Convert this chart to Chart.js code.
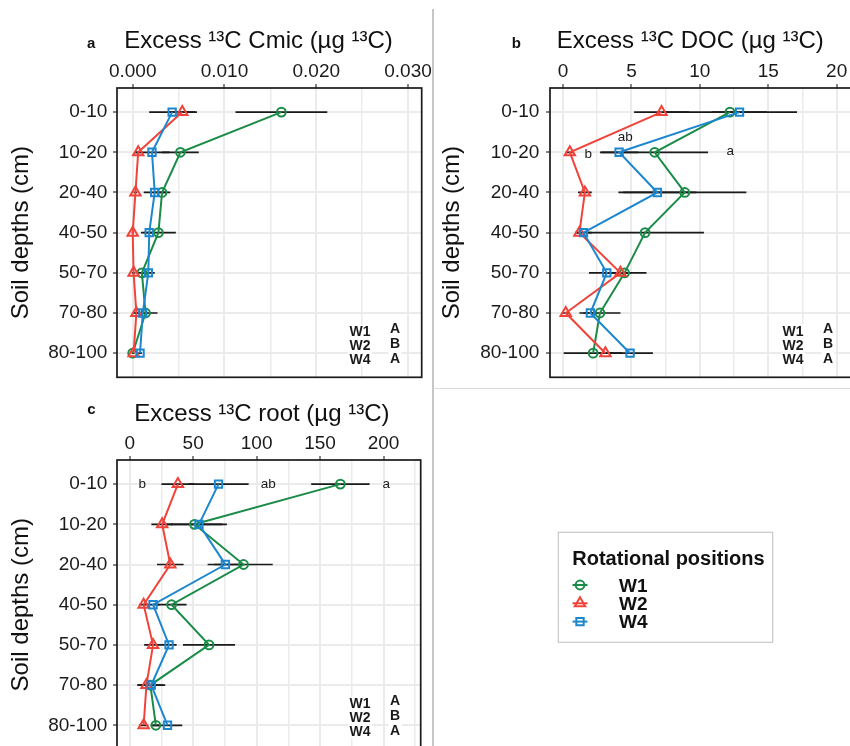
<!DOCTYPE html>
<html><head><meta charset="utf-8">
<script src="https://cdn.jsdelivr.net/npm/chart.js@4.4.1/dist/chart.umd.min.js"></script>
<style>
html,body{margin:0;padding:0;background:#fff;}
body{width:850px;height:746px;position:relative;overflow:hidden;}
canvas{position:absolute;display:block;}
#ca{left:0;top:0;} #cb{left:433px;top:0;} #cc{left:0;top:388px;} #cl{left:557px;top:531px;}
.vline{position:absolute;left:432px;top:9px;width:1.5px;height:737px;background:#c6c6c6;}
.hline{position:absolute;left:433px;top:388px;width:417px;height:1px;background:#dcdcdc;}
</style></head>
<body>
<div class="vline"></div><div class="hline"></div>
<canvas id="ca" width="432" height="388"></canvas>
<canvas id="cb" width="430" height="388"></canvas>
<canvas id="cc" width="432" height="370"></canvas>
<canvas id="cl" width="218" height="114"></canvas>
<script>
// ---------- data ----------
const depths = ['0-10','10-20','20-40','40-50','50-70','70-80','80-100'];
const seriesNames = ['W1','W2','W4'];
const groupLetters = ['A','B','A'];
const legendTitle = 'Rotational positions';

// Excess 13C Cmic
const cmicW1 = [0.0162, 0.0052, 0.0032, 0.0028, 0.0010, 0.0014, 0.0000];
const cmicW2 = [0.0054, 0.0006, 0.0003, 0.0000, 0.0001, 0.0004, 0.0001];
const cmicW4 = [0.0043, 0.0021, 0.0024, 0.0018, 0.0017, 0.0011, 0.0008];
const cmicW1Err = [0.0050, 0.0020, 0.0009, 0.0019, 0.0005, 0.0013, 0.0001];
const cmicW2Err = [0.0016, 0.0003, 0.0002, 0.0001, 0.0002, 0.0003, 0.0001];
const cmicW4Err = [0.0025, 0.0019, 0.0012, 0.0006, 0.0007, 0.0006, 0.0002];
const cmicTicks = [0, 0.01, 0.02, 0.03];
const cmicGrid = [0, 0.005, 0.01, 0.015, 0.02, 0.025, 0.03];

// Excess 13C DOC
const docW1 = [12.2, 6.7, 8.9, 6.0, 4.5, 2.7, 2.2];
const docW2 = [7.2, 0.5, 1.6, 1.2, 4.2, 0.2, 3.1];
const docW4 = [12.9, 4.1, 6.9, 1.5, 3.2, 2.0, 4.9];
const docW1Err = [4.9, 3.9, 4.5, 4.3, 1.6, 1.5, 2.15];
const docW2Err = [2.0, 0.3, 0.5, 0.3, 0.8, 0.3, 0.6];
const docW4Err = [2.0, 1.4, 2.85, 0.6, 1.3, 0.5, 1.67];
const docTicks = [0, 5, 10, 15, 20];
const docGrid = [0, 2.5, 5, 7.5, 10, 12.5, 15, 17.5, 20];
const docSig = ['ab', 'b', 'a'];
const docSigX = [4.55, 1.84, 12.23];
const docSigY = [0.62, 1.04, 0.97];

// Excess 13C root
const rootW1 = [166, 51, 89.7, 33, 62.5, 16.3, 20.6];
const rootW2 = [38, 25.6, 32, 11, 18.4, 13.2, 11];
const rootW4 = [70, 54.6, 75.4, 18.4, 31, 17, 29.8];
const rootW1Err = [23, 22, 23, 11.8, 20.5, 10, 4];
const rootW2Err = [13, 8.5, 10.5, 3.7, 7, 4, 3.7];
const rootW4Err = [23.7, 22, 14, 5, 6, 11, 11.6];
const rootTicks = [0, 50, 100, 150, 200];
const rootGrid = [0, 25, 50, 75, 100, 125, 150, 175, 200, 225];
const rootSig = ['b', 'ab', 'a'];
const rootSigX = [9.9, 109.1, 202.2];
const rootSigY = [0, 0, 0];

// ---------- style ----------
const FONT = '"Liberation Sans", Arial, Helvetica, sans-serif';
const seriesColors = ['#1A8C48', '#F0433A', '#1C86CF'];
const seriesShapes = ['circle', 'triangle', 'rect'];
const seriesRadius = [4.4, 6.0, 5.2];
const seriesOrder = [3, 2, 1];
const GRID = '#EBEBEB';
const INK = '#1a1a1a';

function decoPlugin(cfg) {
  return {
    id: 'deco',
    beforeDatasetsDraw(chart) {
      const {ctx, chartArea: ca, scales: {x, y}} = chart;
      ctx.save();
      ctx.beginPath(); ctx.rect(ca.left, ca.top, ca.right - ca.left, ca.bottom - ca.top); ctx.clip();
      // group letters block (white background)
      ctx.textBaseline = 'alphabetic'; ctx.textAlign = 'left';
      ctx.font = 'bold 14px ' + FONT;
      const wx = ca.left + 232.5, lx = ca.left + 273;
      const wRows = [5.57, 5.92, 6.27], lRows = [5.50, 5.87, 6.25];
      seriesNames.forEach((n, i) => {
        const by = y.getPixelForValue(wRows[i]);
        const w = ctx.measureText(n).width;
        ctx.fillStyle = '#fff'; ctx.fillRect(wx - 1.5, by - 11.5, w + 3, 14);
        const by2 = y.getPixelForValue(lRows[i]);
        const w2 = ctx.measureText(groupLetters[i]).width;
        ctx.fillRect(lx - 1.5, by2 - 11.5, w2 + 3, 14);
      });
      ctx.fillStyle = INK;
      seriesNames.forEach((n, i) => {
        ctx.fillText(n, wx, y.getPixelForValue(wRows[i]));
        ctx.fillText(groupLetters[i], lx, y.getPixelForValue(lRows[i]));
      });
      // significance letters
      if (cfg.sig) {
        ctx.font = '13.5px ' + FONT; ctx.textAlign = 'center'; ctx.textBaseline = 'middle';
        cfg.sig.forEach((t, i) => ctx.fillText(t, x.getPixelForValue(cfg.sigX[i]), y.getPixelForValue(cfg.sigY[i])));
      }
      // error bars
      ctx.strokeStyle = INK; ctx.lineWidth = 1.7;
      chart.data.datasets.forEach(ds => {
        ds.err.forEach((e, j) => {
          const v = ds.data[j].x, py = y.getPixelForValue(j);
          ctx.beginPath();
          ctx.moveTo(x.getPixelForValue(v - e), py);
          ctx.lineTo(x.getPixelForValue(v + e), py);
          ctx.stroke();
        });
      });
      ctx.restore();
    },
    afterDraw(chart) {
      const {ctx, chartArea: ca} = chart;
      ctx.save();
      ctx.strokeStyle = INK; ctx.lineWidth = 1.7;
      ctx.strokeRect(ca.left, ca.top, ca.right - ca.left, ca.bottom - ca.top);
      ctx.fillStyle = '#111'; ctx.textAlign = 'left'; ctx.textBaseline = 'alphabetic';
      ctx.font = '24px ' + FONT;
      ctx.fillText(cfg.title, cfg.titleX, cfg.titleY);
      ctx.font = 'bold 15px ' + FONT;
      ctx.fillText(cfg.tag, cfg.tagX, cfg.tagY);
      ctx.restore();
    }
  };
}

function makePanel(id, cfg) {
  const isMajor = v => cfg.ticks.some(t => Math.abs(t - v) < 1e-9);
  const datasets = seriesNames.map((name, i) => ({
    label: name,
    data: cfg.vals[i].map((v, j) => ({x: v, y: j})),
    err: cfg.errs[i],
    borderColor: seriesColors[i], backgroundColor: 'rgba(0,0,0,0)', borderWidth: 2,
    pointStyle: seriesShapes[i], pointRadius: seriesRadius[i], pointBorderWidth: 2,
    pointBackgroundColor: 'rgba(0,0,0,0)', pointBorderColor: seriesColors[i],
    tension: 0, fill: false, order: seriesOrder[i]
  }));
  return new Chart(document.getElementById(id), {
    type: 'line',
    data: {datasets},
    options: {
      responsive: false, animation: false, devicePixelRatio: 1, events: [],
      layout: {padding: {left: 0, top: 0, right: cfg.padR, bottom: cfg.padB}},
      plugins: {legend: {display: false}, tooltip: {enabled: false}},
      scales: {
        x: {
          type: 'linear', position: 'top', min: cfg.xMin, max: cfg.xMax,
          afterBuildTicks: s => { s.ticks = cfg.grid.map(v => ({value: v})); },
          afterFit: s => { s.height = cfg.xAxisH; s.paddingLeft = 0; s.paddingRight = 0; s.paddingTop = 0; s.paddingBottom = 0; },
          ticks: {autoSkip: false, maxRotation: 0, minRotation: 0, padding: cfg.xPad, color: INK,
            font: {family: FONT, size: 19}, callback: v => isMajor(v) ? cfg.fmt(v) : ''},
          grid: {color: GRID, lineWidth: c => (c.tick && isMajor(c.tick.value)) ? 2 : 1.5,
            drawTicks: true, tickLength: 4, tickWidth: 1.2,
            tickColor: c => (c.tick && isMajor(c.tick.value)) ? '#333' : 'rgba(0,0,0,0)'},
          border: {display: false}
        },
        y: {
          type: 'linear', min: -0.6, max: 6.6, reverse: true,
          afterBuildTicks: s => { s.ticks = depths.map((d, i) => ({value: i})); },
          afterFit: s => { s.width = 117; s.paddingLeft = 0; s.paddingRight = 0; s.paddingTop = 0; s.paddingBottom = 0; },
          ticks: {autoSkip: false, padding: cfg.yPad, color: INK, font: {family: FONT, size: 19},
            callback: v => depths[v]},
          grid: {color: GRID, lineWidth: 2, drawTicks: true, tickLength: 4, tickWidth: 1.2, tickColor: '#333'},
          border: {display: false},
          title: {display: true, text: 'Soil depths (cm)', color: '#111', font: {family: FONT, size: 24},
            padding: {top: cfg.yTitlePad, bottom: 0}}
        }
      }
    },
    plugins: [decoPlugin(cfg)]
  });
}

makePanel('ca', {
  vals: [cmicW1, cmicW2, cmicW4], errs: [cmicW1Err, cmicW2Err, cmicW4Err],
  ticks: cmicTicks, grid: cmicGrid, fmt: v => v.toFixed(3),
  xMin: -0.00171, xMax: 0.03149, padR: 10.3, padB: 10.7, xAxisH: 88, xPad: 1, yPad: 5.7, yTitlePad: 6.6,
  title: 'Excess ¹³C Cmic (µg ¹³C)', titleX: 124.3, titleY: 48.3, tag: 'a', tagX: 87, tagY: 48.3
});
makePanel('cb', {
  vals: [docW1, docW2, docW4], errs: [docW1Err, docW2Err, docW4Err],
  ticks: docTicks, grid: docGrid, fmt: v => String(v),
  sig: docSig, sigX: docSigX, sigY: docSigY,
  xMin: -0.95, xMax: 21.34, padR: 3, padB: 10.7, xAxisH: 88, xPad: 1, yPad: 6.7, yTitlePad: 5.0,
  title: 'Excess ¹³C DOC (µg ¹³C)', titleX: 123.7, titleY: 48.3, tag: 'b', tagX: 78.7, tagY: 48.3
});
makePanel('cc', {
  vals: [rootW1, rootW2, rootW4], errs: [rootW1Err, rootW2Err, rootW4Err],
  ticks: rootTicks, grid: rootGrid, fmt: v => String(v),
  sig: rootSig, sigX: rootSigX, sigY: rootSigY,
  xMin: -10.0, xMax: 229.3, padR: 11.3, padB: 8.6, xAxisH: 72, xPad: 1.3, yPad: 5.7, yTitlePad: 6.6,
  title: 'Excess ¹³C root (µg ¹³C)', titleX: 134.3, titleY: 33.3, tag: 'c', tagX: 87.3, tagY: 26
});

// ---------- legend ----------
function drawShape(ctx, style, r, x, y) {
  if (Chart.helpers && Chart.helpers.drawPoint) {
    Chart.helpers.drawPoint(ctx, {pointStyle: style, radius: r, rotation: 0, borderWidth: 2}, x, y);
    return;
  }
  ctx.beginPath();
  if (style === 'circle') ctx.arc(x, y, r, 0, Math.PI * 2);
  else if (style === 'triangle') {
    for (let k = 0; k < 3; k++) {
      const a = k * 2 * Math.PI / 3;
      const px = x + Math.sin(a) * r, py = y - Math.cos(a) * r;
      k ? ctx.lineTo(px, py) : ctx.moveTo(px, py);
    }
    ctx.closePath();
  } else { const s = r * Math.SQRT1_2; ctx.rect(x - s, y - s, 2 * s, 2 * s); }
  ctx.stroke();
}
const legendPlugin = {
  id: 'rotLegend',
  afterDraw(chart) {
    const ctx = chart.ctx;
    ctx.save();
    ctx.strokeStyle = '#c8c8c8'; ctx.lineWidth = 1.2;
    ctx.strokeRect(1.3, 1.3, 214.4, 110);
    ctx.fillStyle = '#111'; ctx.textAlign = 'left'; ctx.textBaseline = 'alphabetic';
    ctx.font = 'bold 20px ' + FONT;
    ctx.fillText(legendTitle, 15.3, 34);
    chart.data.datasets.forEach((ds, i) => {
      const cy = 54 + 18.3 * i;
      ctx.strokeStyle = ds.borderColor; ctx.lineWidth = 2;
      ctx.beginPath(); ctx.moveTo(15.5, cy); ctx.lineTo(30.5, cy); ctx.stroke();
      ctx.fillStyle = 'rgba(0,0,0,0)';
      drawShape(ctx, ds.pointStyle, ds.pointRadius, 23, cy);
      ctx.fillStyle = '#111'; ctx.font = 'bold 19px ' + FONT;
      ctx.fillText(ds.label, 62, 60.7 + 18 * i);
    });
    ctx.restore();
  }
};
new Chart(document.getElementById('cl'), {
  type: 'line',
  data: {datasets: seriesNames.map((n, i) => ({label: n, data: [], borderColor: seriesColors[i],
    pointStyle: seriesShapes[i], pointRadius: seriesRadius[i]}))},
  options: {responsive: false, animation: false, devicePixelRatio: 1, events: [],
    plugins: {legend: {display: false}, tooltip: {enabled: false}},
    scales: {x: {display: false}, y: {display: false}}},
  plugins: [legendPlugin]
});
</script>
</body></html>
